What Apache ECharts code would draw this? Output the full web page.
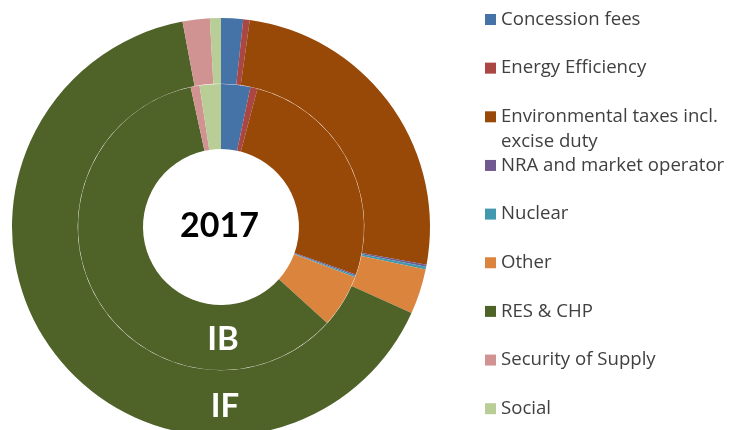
<!DOCTYPE html>
<html><head><meta charset="utf-8">
<script src="https://cdn.jsdelivr.net/npm/echarts@6/dist/echarts.min.js"></script>
<style>html,body{margin:0;padding:0;background:#fff}#c{width:729px;height:430px}</style>
</head><body><div id="c"></div>
<script>
const categories = ['Concession fees','Energy Efficiency','Environmental taxes incl. excise duty','NRA and market operator','Nuclear','Other','RES & CHP','Security of Supply','Social'];
const legendLabels = ['Concession fees','Energy Efficiency','Environmental taxes incl.\nexcise duty','NRA and market operator','Nuclear','Other','RES & CHP','Security of Supply','Social'];
const ibValues = [3.3, 0.8, 26.3, 0.15, 0.15, 6.0, 59.9, 1.0, 2.4];
const ifValues = [1.7, 0.5, 25.7, 0.15, 0.2, 3.5, 65.3, 2.1, 0.85];
const colors = ['#4572A7','#AA4643','#984807','#71588F','#4198AF','#DB843D','#4F6228','#D19392','#B9CD96'];
const yearLabel = '2017';
const ringLabels = ['IB','IF'];

const chart = echarts.init(document.getElementById('c'), null, {renderer:'canvas'});
const FONT = 'Open Sans';
const legends = categories.map((name, i) => {
  const multi = legendLabels[i].indexOf('\n') >= 0;
  const cy = 19.5 + 48.65 * i;
  return {
    data: [name],
    orient: 'vertical',
    left: 485,
    top: multi ? cy - 37.5 : cy - 12.5,
    padding: 0,
    itemWidth: 11, itemHeight: 11,
    icon: 'rect',
    selectedMode: false,
    // a leading blank line keeps the first text line level with the icon
    formatter: () => (multi ? '\n' : '') + legendLabels[i],
    textStyle: {fontFamily: FONT, fontSize: 18.6, color: '#404040', lineHeight: 25}
  };
});
function mk(vals){ return categories.map((n,i)=>({name:n, value:vals[i], itemStyle:{color:colors[i]}})); }
const common = {type:'pie', center:[221,227], startAngle:90, clockwise:true, silent:true,
  label:{show:false}, labelLine:{show:false}, emphasis:{disabled:true}, avoidLabelOverlap:false};
chart.setOption({
  animation:false,
  color: colors,
  legend: legends,
  series: [
    Object.assign({}, common, {name: ringLabels[0], radius:[78,143], data: mk(ibValues)}),
    Object.assign({}, common, {name: ringLabels[1], radius:[143.35,209], data: mk(ifValues)})
  ],
  graphic: [
    {type:'text', z:100, x:219.5, y:226, style:{text:yearLabel, font:'bold 34px Lato', fill:'#000', align:'center', verticalAlign:'middle'}},
    {type:'text', z:100, x:223, y:339.5, style:{text:ringLabels[0], font:'bold 33px Lato', fill:'#fff', align:'center', verticalAlign:'middle'}},
    {type:'text', z:100, x:225, y:406, style:{text:ringLabels[1], font:'bold 33px Lato', fill:'#fff', align:'center', verticalAlign:'middle'}}
  ]
});
</script></body></html>
